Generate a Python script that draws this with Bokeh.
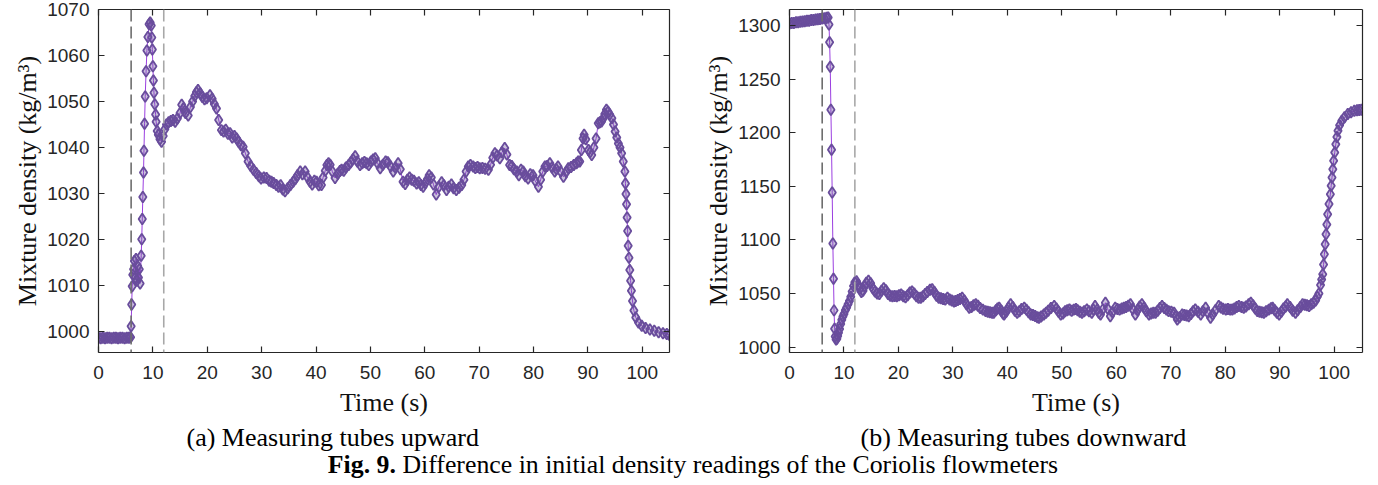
from bokeh.plotting import figure
from bokeh.models import (Range1d, Span, LinearAxis, FixedTicker,
                          CustomJSTickFormatter, Title, Div)
from bokeh.layouts import row, column
from bokeh.embed import file_html
from bokeh.resources import INLINE

# ---------------- data (time s, density kg/m3) ----------------
x_ticks = [0, 10, 20, 30, 40, 50, 60, 70, 80, 90, 100]
y_ticks_up = [1000, 1010, 1020, 1030, 1040, 1050, 1060, 1070]
y_ticks_down = [1000, 1050, 1100, 1150, 1200, 1250, 1300]
marker_lines = [6, 12]

up_start = [(0.0, 998.7), (0.4, 998.6), (0.8, 998.7), (1.2, 998.6), (1.6, 998.7), (2.0, 998.7),
            (2.4, 998.6), (2.8, 998.7), (3.2, 998.7), (3.6, 998.6), (4.0, 998.7), (4.4, 998.7),
            (4.8, 998.6), (5.2, 998.7), (5.6, 998.7), (5.9, 998.8)]
up_rise = [(6.0, 1001.2), (6.1, 1005.9), (6.2, 1009.9), (6.3, 1012.4), (6.45, 1013.6), (6.6, 1015.4),
           (6.75, 1011.8), (6.9, 1015.8), (7.05, 1011.1), (7.2, 1014.3), (7.35, 1011.8), (7.5, 1013.6),
           (7.65, 1010.5), (7.85, 1016.5), (7.95, 1020.1), (8.05, 1024.5), (8.15, 1029.3), (8.28, 1034.6),
           (8.36, 1039.3), (8.47, 1045.2), (8.59, 1051.1), (8.75, 1056.6), (8.9, 1061.1), (9.08, 1064.0),
           (9.3, 1066.8), (9.5, 1067.2), (9.7, 1066.5), (9.8, 1063.9), (9.9, 1061.3), (10.0, 1057.7),
           (10.1, 1054.6), (10.2, 1051.9), (10.35, 1049.4), (10.5, 1047.2), (10.6, 1045.6), (10.8, 1043.6),
           (11.0, 1042.8), (11.3, 1041.8), (11.6, 1041.3), (11.9, 1042.5)]
up_body = [(12.2, 1044.0), (12.5, 1045.0), (12.9, 1045.5), (13.3, 1045.8), (13.7, 1046.0), (14.1, 1045.6),
           (14.5, 1046.3), (15.0, 1047.5), (15.3, 1049.3), (15.6, 1048.5), (16.0, 1047.5), (16.5, 1047.0),
           (16.9, 1048.8), (17.3, 1050.0), (17.7, 1051.2), (18.0, 1052.0), (18.3, 1052.5), (18.7, 1051.8),
           (19.1, 1051.0), (19.5, 1050.5), (19.9, 1050.7), (20.5, 1051.4), (20.9, 1050.6), (21.3, 1049.5),
           (21.7, 1048.5), (22.1, 1046.0), (22.6, 1043.8), (23.0, 1043.5), (23.4, 1043.9), (23.8, 1043.0),
           (24.2, 1043.1), (24.6, 1042.2), (25.0, 1042.5), (25.4, 1042.0), (25.8, 1041.2), (26.2, 1040.5),
           (26.6, 1040.2), (27.0, 1038.8), (27.5, 1037.0), (28.0, 1036.0), (28.5, 1035.2), (29.0, 1034.5),
           (29.5, 1033.8), (29.9, 1033.3), (30.4, 1033.5), (30.9, 1033.4), (31.4, 1032.8), (31.8, 1032.6),
           (32.2, 1032.3), (32.7, 1031.9), (33.1, 1031.5), (33.5, 1031.8), (33.9, 1030.9), (34.3, 1030.5),
           (34.8, 1031.2), (35.3, 1031.9), (35.8, 1032.6), (36.2, 1033.2), (36.6, 1034.0), (37.1, 1034.8),
           (37.5, 1034.2), (38.0, 1034.8), (38.4, 1033.6), (38.9, 1032.6), (39.3, 1032.0), (39.7, 1032.8),
           (40.1, 1032.6), (40.5, 1031.8), (41.0, 1031.9), (41.3, 1033.5), (41.7, 1035.0), (42.0, 1036.2),
           (42.3, 1036.6), (42.6, 1036.3), (43.0, 1034.8), (43.5, 1033.4), (44.0, 1034.3), (44.4, 1034.9),
           (44.7, 1035.2), (45.1, 1035.0), (45.5, 1035.7), (46.0, 1036.2), (46.4, 1036.8), (46.8, 1037.5),
           (47.2, 1038.1), (47.6, 1037.0), (48.1, 1036.2), (48.5, 1036.6), (48.9, 1036.9), (49.3, 1036.6),
           (49.7, 1036.2), (50.1, 1037.0), (50.5, 1037.4), (50.9, 1037.7), (51.3, 1036.6), (51.8, 1035.5),
           (52.3, 1036.3), (52.8, 1037.0), (53.2, 1036.8), (53.7, 1035.9), (54.2, 1034.8), (54.6, 1035.7),
           (55.1, 1036.6), (55.5, 1035.3), (56.0, 1032.6), (56.4, 1032.1), (56.8, 1033.0), (57.2, 1033.5),
           (57.6, 1033.0), (58.0, 1032.8), (58.5, 1032.2), (58.9, 1032.5), (59.3, 1031.9), (59.7, 1031.5),
           (60.1, 1032.3), (60.5, 1033.2), (60.8, 1034.0), (61.2, 1033.5), (61.6, 1032.0), (62.1, 1029.8),
           (62.6, 1031.5), (63.1, 1032.5), (63.5, 1031.8), (64.0, 1030.8), (64.4, 1031.5), (64.9, 1032.0),
           (65.3, 1031.2), (65.8, 1030.8), (66.3, 1031.3), (66.8, 1031.9), (67.2, 1033.0), (67.6, 1034.8),
           (68.0, 1035.9), (68.4, 1036.2), (68.9, 1035.9), (69.3, 1035.6), (69.7, 1035.8), (70.1, 1035.5),
           (70.6, 1035.6), (71.1, 1035.4), (71.7, 1035.2), (72.1, 1036.3), (72.5, 1037.8), (72.9, 1038.8),
           (73.3, 1038.3), (73.8, 1037.7), (74.2, 1039.0), (74.7, 1039.9), (75.1, 1038.5), (75.6, 1036.2),
           (76.0, 1036.0), (76.4, 1035.3), (76.9, 1034.8), (77.3, 1034.0), (77.7, 1035.2), (78.1, 1034.8),
           (78.5, 1033.8), (79.0, 1033.3), (79.4, 1034.2), (79.9, 1034.0), (80.3, 1032.8), (80.9, 1031.5),
           (81.3, 1033.0), (81.7, 1034.8), (82.1, 1035.9), (82.5, 1036.0), (83.0, 1036.6), (83.4, 1035.7),
           (83.9, 1034.8), (84.2, 1035.3), (84.5, 1035.9), (85.0, 1034.8), (85.5, 1033.7), (86.0, 1034.7),
           (86.4, 1035.5), (86.9, 1035.8), (87.4, 1036.2), (87.9, 1036.6), (88.2, 1037.0), (88.5, 1037.0),
           (88.8, 1039.5), (89.1, 1042.0), (89.3, 1042.8), (89.6, 1041.8), (90.1, 1039.5), (90.4, 1039.0),
           (90.7, 1038.4), (91.1, 1040.0), (91.5, 1042.0), (91.9, 1045.3), (92.2, 1045.5), (92.5, 1045.7),
           (92.8, 1046.3), (93.1, 1047.3), (93.4, 1048.2), (93.7, 1047.8), (94.0, 1047.2), (94.4, 1046.4),
           (94.7, 1045.0), (95.0, 1043.5), (95.3, 1042.2), (95.6, 1040.9), (95.9, 1040.0), (96.2, 1038.8),
           (96.5, 1037.0), (96.8, 1034.8)]
up_fall = [(96.9, 1032.2), (97.0, 1029.9), (97.1, 1027.7), (97.2, 1024.8), (97.3, 1021.9), (97.4, 1018.7),
           (97.55, 1016.1), (97.7, 1013.4), (97.85, 1011.1), (98.0, 1008.9), (98.2, 1006.7), (98.45, 1004.6),
           (98.8, 1003.1), (99.3, 1002.0), (99.9, 1001.3), (100.6, 1000.8), (101.4, 1000.5), (102.2, 1000.2),
           (103.0, 999.9), (103.8, 999.7), (104.5, 999.5), (105.0, 999.3)]

down_start = [(0.0, 1302.0), (0.4, 1302.4), (0.8, 1302.5), (1.2, 1303.0), (1.6, 1303.1), (2.0, 1303.6),
              (2.4, 1303.8), (2.8, 1304.0), (3.2, 1304.5), (3.6, 1304.6), (4.0, 1305.1), (4.4, 1305.2),
              (4.8, 1305.7), (5.2, 1305.9), (5.6, 1306.1), (6.0, 1306.6), (6.4, 1306.8), (6.8, 1307.3),
              (7.1, 1307.5)]
down_drop = [(7.25, 1301.0), (7.36, 1284.4), (7.48, 1261.7), (7.6, 1221.5), (7.72, 1184.1), (7.84, 1144.2),
             (7.96, 1096.6), (8.08, 1063.8), (8.18, 1034.3), (8.28, 1017.1), (8.4, 1010.0), (8.55, 1007.2),
             (8.7, 1007.8), (8.85, 1010.5), (9.0, 1013.5), (9.2, 1017.0), (9.4, 1021.5), (9.6, 1025.5),
             (9.8, 1028.5), (10.0, 1031.0), (10.25, 1034.5), (10.5, 1037.0), (10.75, 1040.0), (11.0, 1043.0),
             (11.25, 1047.0), (11.5, 1052.0), (11.75, 1057.0), (12.0, 1060.5)]
down_body = [(12.3, 1061.5), (12.6, 1058.5), (12.9, 1054.5), (13.2, 1051.5), (13.5, 1052.5), (13.8, 1056.5),
             (14.1, 1060.0), (14.5, 1062.0), (14.9, 1059.5), (15.3, 1055.0), (15.7, 1052.0), (16.1, 1050.0),
             (16.5, 1049.5), (16.9, 1052.5), (17.3, 1055.0), (17.7, 1053.0), (18.1, 1049.5), (18.5, 1048.0),
             (18.9, 1047.5), (19.3, 1047.7), (19.7, 1047.5), (20.1, 1048.5), (20.5, 1049.2), (20.9, 1047.5),
             (21.3, 1046.5), (21.7, 1048.5), (22.1, 1051.0), (22.5, 1052.0), (22.9, 1050.0), (23.3, 1047.5),
             (23.7, 1046.0), (24.1, 1046.0), (24.5, 1047.5), (24.9, 1049.5), (25.3, 1051.5), (25.8, 1053.5),
             (26.2, 1053.9), (26.6, 1051.5), (27.0, 1048.0), (27.4, 1046.0), (27.8, 1045.5), (28.2, 1045.0),
             (28.6, 1044.5), (29.0, 1046.0), (29.4, 1044.5), (29.8, 1043.5), (30.2, 1042.5), (30.5, 1043.0),
             (30.9, 1044.0), (31.3, 1045.0), (31.7, 1046.0), (32.1, 1043.5), (32.5, 1040.0), (33.0, 1036.8),
             (33.4, 1037.5), (33.8, 1039.0), (34.2, 1040.0), (34.6, 1038.5), (35.0, 1036.5), (35.5, 1035.0),
             (36.0, 1033.6), (36.4, 1033.0), (36.8, 1032.5), (37.2, 1032.0), (37.5, 1032.1), (37.9, 1034.5),
             (38.2, 1036.0), (38.5, 1036.8), (38.9, 1034.0), (39.2, 1031.5), (39.4, 1030.5), (39.8, 1033.0),
             (40.2, 1037.0), (40.6, 1040.0), (41.0, 1037.5), (41.4, 1034.0), (41.8, 1032.1), (42.2, 1033.5),
             (42.6, 1035.5), (43.1, 1036.8), (43.5, 1035.0), (43.9, 1032.5), (44.3, 1030.5), (44.7, 1030.0),
             (45.1, 1029.0), (45.5, 1028.0), (45.8, 1027.4), (46.2, 1028.5), (46.7, 1030.5), (47.1, 1032.0),
             (47.5, 1034.0), (48.0, 1036.5), (48.6, 1038.3), (49.0, 1036.0), (49.4, 1033.0), (49.8, 1030.5),
             (50.2, 1031.5), (50.6, 1033.5), (51.0, 1034.5), (51.4, 1035.2), (51.8, 1034.0), (52.2, 1035.0),
             (52.6, 1035.5), (52.9, 1034.5), (53.3, 1033.0), (53.7, 1032.0), (54.1, 1033.5), (54.6, 1035.2),
             (55.0, 1033.5), (55.5, 1032.0), (55.8, 1035.0), (56.1, 1038.3), (56.5, 1035.0), (56.8, 1032.0),
             (57.1, 1030.5), (57.5, 1035.0), (58.0, 1041.4), (58.4, 1036.0), (58.9, 1028.8), (59.3, 1032.5),
             (59.8, 1036.8), (60.2, 1035.5), (60.6, 1035.0), (61.0, 1036.0), (61.4, 1036.8), (61.8, 1037.5),
             (62.2, 1038.5), (62.6, 1040.0), (63.0, 1035.5), (63.5, 1030.5), (63.9, 1034.5), (64.3, 1038.0),
             (64.7, 1040.0), (65.1, 1037.0), (65.5, 1033.5), (66.0, 1030.5), (66.4, 1031.5), (66.8, 1032.0),
             (67.2, 1032.0), (67.6, 1034.0), (68.0, 1036.5), (68.4, 1038.3), (68.8, 1036.5), (69.2, 1035.0),
             (69.6, 1033.6), (70.1, 1033.0), (70.6, 1032.0), (71.0, 1028.5), (71.2, 1025.8), (71.6, 1028.0),
             (72.1, 1030.5), (72.5, 1030.0), (72.9, 1029.5), (73.3, 1028.8), (73.7, 1031.0), (74.1, 1033.5),
             (74.5, 1035.2), (75.0, 1033.0), (75.5, 1030.5), (75.9, 1033.5), (76.4, 1036.8), (76.8, 1032.0),
             (77.3, 1027.4), (77.7, 1030.5), (78.2, 1034.5), (78.8, 1038.3), (79.2, 1037.0), (79.6, 1035.8),
             (80.1, 1035.2), (80.5, 1035.5), (80.9, 1035.0), (81.3, 1035.2), (81.7, 1036.0), (82.1, 1037.5),
             (82.5, 1038.3), (83.0, 1037.5), (83.4, 1036.8), (83.8, 1038.0), (84.3, 1040.0), (84.7, 1041.4),
             (85.1, 1039.0), (85.5, 1036.0), (85.9, 1033.6), (86.3, 1033.0), (86.7, 1032.5), (87.1, 1032.0),
             (87.5, 1033.5), (88.0, 1035.0), (88.4, 1036.2), (88.7, 1036.8), (89.1, 1034.5), (89.5, 1032.0),
             (89.9, 1030.5), (90.3, 1033.0), (90.7, 1036.0), (91.1, 1038.0), (91.4, 1040.0), (91.9, 1037.5),
             (92.4, 1034.0), (92.9, 1032.0), (93.3, 1034.5), (93.8, 1037.5), (94.2, 1040.0), (94.6, 1039.5),
             (95.0, 1039.0), (95.4, 1038.3), (95.8, 1040.0), (96.2, 1041.4), (96.6, 1043.5)]
down_recover = [(96.9, 1047.0), (97.2, 1050.0), (97.5, 1058.0), (97.7, 1063.0), (97.9, 1068.0), (98.05, 1077.0),
                (98.2, 1086.6), (98.35, 1096.0), (98.5, 1105.3), (98.65, 1114.5), (98.8, 1124.0), (99.05, 1133.5),
                (99.3, 1142.7), (99.45, 1150.5), (99.6, 1158.2), (99.75, 1166.0), (99.9, 1173.8), (100.1, 1181.5),
                (100.3, 1189.4), (100.5, 1196.0), (100.7, 1201.9), (101.0, 1207.0), (101.4, 1211.2), (101.9, 1214.5),
                (102.5, 1217.5), (103.1, 1219.2), (103.7, 1220.6), (104.2, 1221.0), (104.6, 1221.2), (105.0, 1221.5)]

# ---------------- styling ----------------
AX = "#262626"
MARK = "#694D9C"
LINE = "#9B3FE0"
SERIF = "Liberation Serif"
SANS = "Liberation Sans"


def style_axis(ax, ticks, labels=True, standoff=10):
    ax.ticker = FixedTicker(ticks=ticks)
    ax.major_tick_in = 6
    ax.major_tick_out = 0
    ax.minor_tick_line_color = None
    ax.axis_line_color = AX
    ax.axis_line_width = 1.2
    ax.major_tick_line_color = AX
    ax.major_tick_line_width = 1.2
    if labels:
        ax.major_label_text_font = SANS
        ax.major_label_text_font_size = "19px"
        ax.major_label_text_color = AX
        ax.major_label_standoff = standoff
        ax.axis_label_text_font = SERIF
        ax.axis_label_text_font_size = "26px"
        ax.axis_label_text_font_style = "normal"
        ax.axis_label_text_color = "#111111"
    else:
        ax.formatter = CustomJSTickFormatter(code="return ''")
        ax.major_label_text_font_size = "0px"
        ax.major_label_standoff = 0


def panel(segments, xmax, yrange, yticks, caption, cap_offset, width, border_right):
    t = [pt[0] for seg in segments for pt in seg]
    v = [pt[1] for seg in segments for pt in seg]
    p = figure(width=width, height=452, x_range=Range1d(0, xmax), y_range=Range1d(*yrange),
               output_backend="svg", toolbar_location=None,
               min_border_left=98, min_border_right=border_right, min_border_top=9,
               min_border_bottom=100,
               x_axis_label="Time (s)", y_axis_label="Mixture density (kg/m³)")
    p.outline_line_color = None
    p.grid.visible = False
    p.background_fill_color = "white"
    p.border_fill_color = "white"
    for loc, col in zip(marker_lines, ["#6E6E6E", "#A8A8A8"]):
        p.add_layout(Span(location=loc, dimension="height", line_color=col,
                          line_width=1.6, line_dash="12 5"))
    p.line(t, v, line_color=LINE, line_width=1)
    p.scatter(t, v, marker="diamond", size=11, fill_color=MARK, fill_alpha=0.35,
              line_color=MARK, line_width=1.8)
    style_axis(p.xaxis[0], x_ticks, True, 13)
    p.xaxis[0].axis_label_standoff = 6
    style_axis(p.yaxis[0], yticks, True, 9)
    p.yaxis[0].axis_label_standoff = 2
    top = LinearAxis()
    style_axis(top, x_ticks, False)
    p.add_layout(top, "above")
    right = LinearAxis()
    style_axis(right, yticks, False)
    p.add_layout(right, "right")
    p.add_layout(Title(text=caption, align="left", offset=cap_offset, text_font=SERIF,
                       text_font_size="26px", text_font_style="normal", text_color="black",
                       standoff=2), "below")
    return p


p1 = panel([up_start, up_rise, up_body, up_fall], 105, (995.5, 1070), y_ticks_up,
           "(a) Measuring tubes upward", 88, 691, 22)
p2 = panel([down_start, down_drop, down_body, down_recover], 105.2, (995, 1315), y_ticks_down,
           "(b) Measuring tubes downward", 71, 687, 16)

fig_caption = Div(text="<b>Fig. 9.</b> Difference in initial density readings of the Coriolis flowmeters",
                  width=1378, height=33, margin=(0, 0, 0, 0),
                  styles={"font-family": "'Liberation Serif', serif", "font-size": "25.8px",
                          "text-align": "center", "color": "#000", "line-height": "26px",
                          "padding-left": "8px", "box-sizing": "border-box"})

layout = column(row(p1, p2), fig_caption)
open("out.html", "w").write(file_html(layout, INLINE))
